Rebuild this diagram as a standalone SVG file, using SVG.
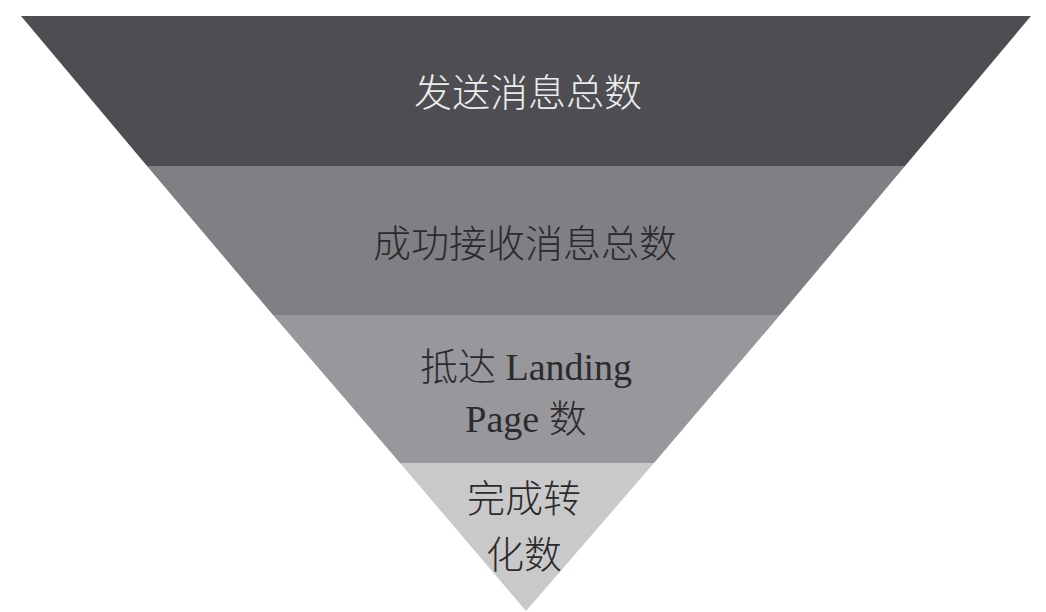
<svg xmlns="http://www.w3.org/2000/svg" width="1046" height="612" viewBox="0 0 1046 612">
<style>
.t{font-family:"Liberation Serif","Noto Sans CJK SC",serif;font-size:38px;text-anchor:middle;fill:#2b2b2d}
.c{font-family:"Noto Sans CJK SC","Liberation Sans",sans-serif;font-weight:300}
.w{fill:#ececec}
</style>
<rect width="1046" height="612" fill="#ffffff"/>
<g id="level1">
<polygon points="21,16 1031,16 905,166 147,166" fill="#4e4d51"/>
<text class="t c w" x="528" y="106">发送消息总数</text>
</g>
<g id="level2">
<polygon points="147,166 905,166 780,315 273,315" fill="#807f83"/>
<text class="t c" x="525" y="257">成功接收消息总数</text>
</g>
<g id="level3">
<polygon points="273,315 780,315 654,463 400,463" fill="#98979b"/>
<text class="t" x="526" y="380"><tspan class="c">抵达</tspan> Landing</text>
<text class="t" x="526" y="432">Page <tspan class="c">数</tspan></text>
</g>
<g id="level4">
<polygon points="400,463 654,463 526,611" fill="#c9c9ca"/>
<text class="t c" x="524" y="512">完成转</text>
<text class="t c" x="524" y="568">化数</text>
</g>
<g id="connectors"/>
</svg>
